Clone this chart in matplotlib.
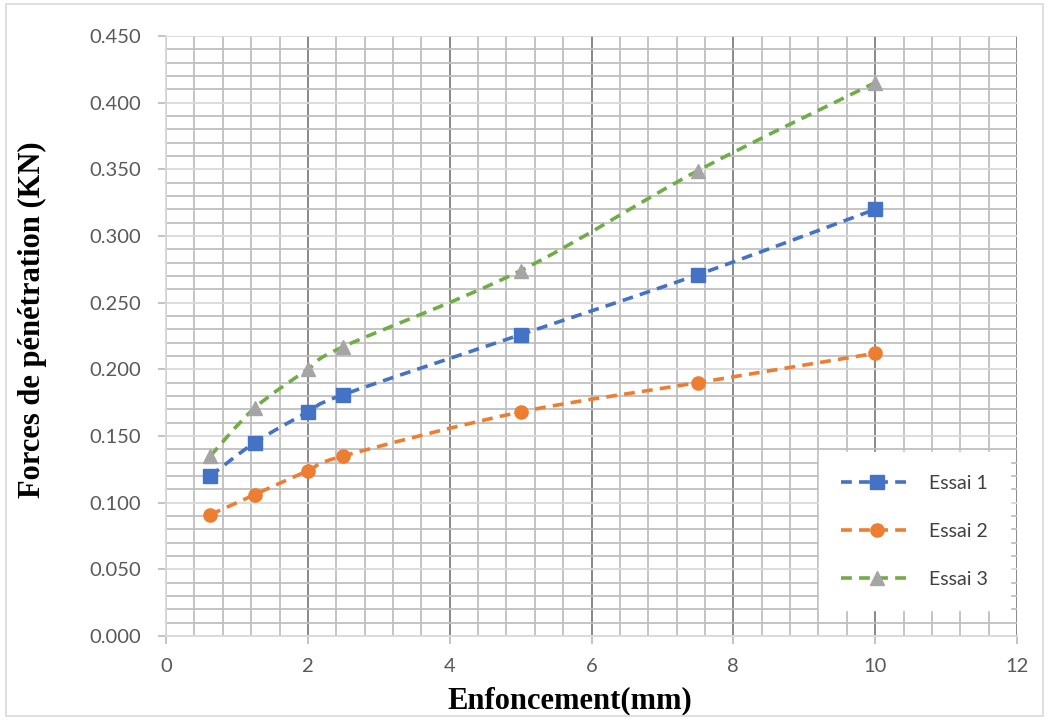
import matplotlib.pyplot as plt
import numpy as np
from matplotlib.path import Path
from matplotlib.patches import PathPatch, Rectangle
from matplotlib.lines import Line2D
from matplotlib.ticker import MultipleLocator, FormatStrFormatter

# Enfoncement (mm) et forces mesurées (kN) pour les trois essais
enfoncement = [0.625, 1.25, 2.0, 2.5, 5.0, 7.5, 10.0]
essai_1 = [0.120, 0.145, 0.168, 0.181, 0.226, 0.271, 0.320]
essai_2 = [0.091, 0.106, 0.124, 0.135, 0.168, 0.190, 0.212]
essai_3 = [0.135, 0.171, 0.200, 0.217, 0.274, 0.349, 0.415]
labels = ['Essai 1', 'Essai 2', 'Essai 3']

line_colors = ['#4472C4', '#ED7D31', '#70AD47']
marker_colors = ['#4472C4', '#ED7D31', '#A5A5A5']
markers = ['s', 'o', '^']
marker_sizes = [10, 9.5, 10]
DASH = (0, (3, 2))


def smooth_path(x, y):
    # courbe lissée façon Excel : Bézier cubique de type Catmull-Rom
    pts = np.column_stack([x, y]).astype(float)
    n = len(pts)
    verts = [pts[0]]
    codes = [Path.MOVETO]
    for i in range(n - 1):
        p0 = pts[i - 1] if i > 0 else pts[i]
        p1 = pts[i]
        p2 = pts[i + 1]
        p3 = pts[i + 2] if i + 2 < n else pts[i + 1]
        c1 = p1 + (p2 - p0) / 6.0
        c2 = p2 - (p3 - p1) / 6.0
        verts += [c1, c2, p2]
        codes += [Path.CURVE4] * 3
    return Path(verts, codes)


fig = plt.figure(figsize=(10.49, 7.2), dpi=100)
ax = fig.add_axes([0.1583, 0.1167, 0.8112, 0.8333])

# cadre extérieur du graphique
fig.patches.append(Rectangle((0.006, 0.006), 0.988, 0.988, transform=fig.transFigure,
                             fill=False, edgecolor='#D9D9D9', lw=1.2))

ax.set_xlim(0, 12)
ax.set_ylim(0, 0.45)
ax.xaxis.set_major_locator(MultipleLocator(2))
ax.xaxis.set_minor_locator(MultipleLocator(0.4))
ax.yaxis.set_major_locator(MultipleLocator(0.05))
ax.yaxis.set_minor_locator(MultipleLocator(0.01))
ax.yaxis.set_major_formatter(FormatStrFormatter('%.3f'))

ax.grid(which='minor', axis='both', color='#BFBFBF', lw=1.3)
ax.grid(which='major', axis='y', color='#D9D9D9', lw=1.3)
ax.grid(which='major', axis='x', color='#7F7F7F', lw=1.3)
ax.set_axisbelow(True)

for side in ['top', 'right']:
    ax.spines[side].set_visible(False)
for side in ['left', 'bottom']:
    ax.spines[side].set_color('#D9D9D9')
    ax.spines[side].set_linewidth(1.3)

ax.tick_params(which='major', length=6, color='#BFBFBF', width=1.3,
               labelsize=14.5, labelcolor='#595959')
ax.tick_params(which='minor', length=0)
ax.tick_params(axis='x', pad=10)
ax.tick_params(axis='y', pad=12)
for lab in ax.get_xticklabels() + ax.get_yticklabels():
    lab.set_fontfamily('Lato')

series = [essai_1, essai_2, essai_3]
handles = []
for ys, lc, mc, m, ms, lab in zip(series, line_colors, marker_colors, markers, marker_sizes, labels):
    patch = PathPatch(smooth_path(enfoncement, ys), fill=False, edgecolor=lc,
                      lw=2.6, linestyle=DASH, capstyle='butt', zorder=3)
    ax.add_patch(patch)
    ax.plot(enfoncement, ys, ls='none', marker=m, ms=ms, color=mc, zorder=4)
    handles.append(Line2D([], [], color=lc, lw=2.6, linestyle=DASH, marker=m,
                          ms=ms, markerfacecolor=mc, markeredgecolor=mc, label=lab))

leg = ax.legend(handles=handles, loc='lower right', bbox_to_anchor=(0.992, 0.043),
                frameon=True, fancybox=False, framealpha=1, edgecolor='white',
                prop={'family': 'Lato', 'size': 14}, labelspacing=1.6,
                handlelength=3.7, borderpad=1.15, handletextpad=0.8, borderaxespad=0)
for t in leg.get_texts():
    t.set_color('#404040')

ax.set_xlabel('Enfoncement(mm)', fontfamily='Liberation Serif', fontweight='bold',
              fontsize=22)
ax.xaxis.set_label_coords(0.475, -0.083)
ax.set_ylabel('Forces de pénétration (KN)', fontfamily='Liberation Serif', fontweight='bold',
              fontsize=22)
ax.yaxis.set_label_coords(-0.14, 0.527)

plt.savefig('out.png', dpi=100)
